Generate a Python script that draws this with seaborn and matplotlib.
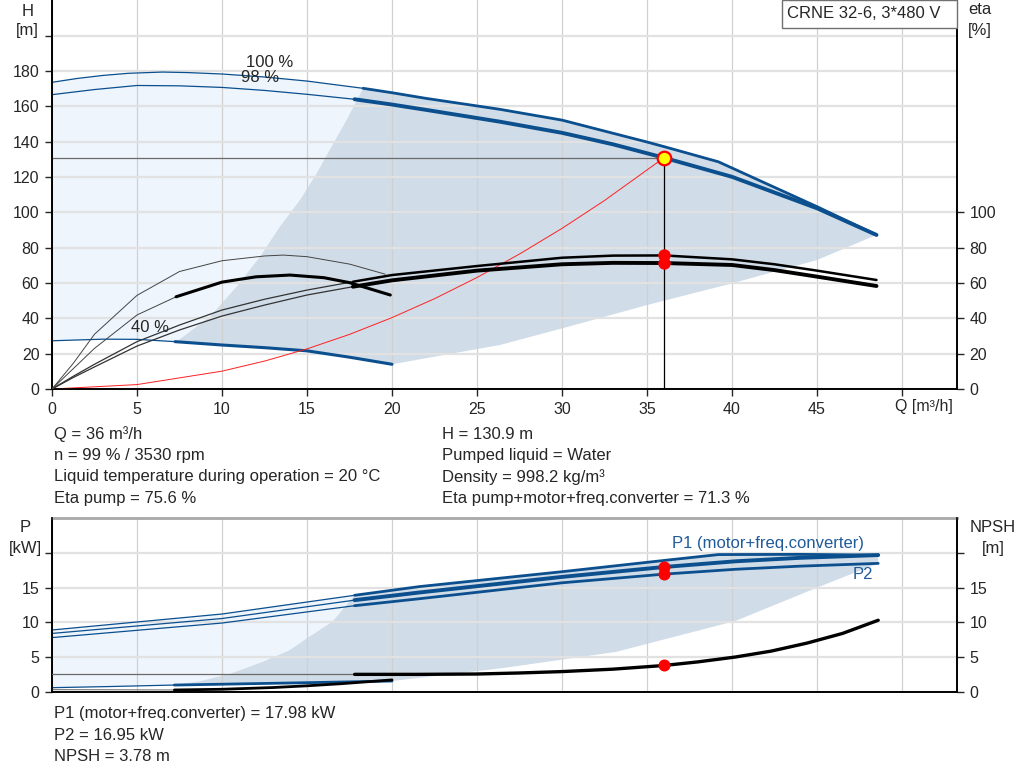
import matplotlib
matplotlib.use("Agg")
import matplotlib.pyplot as plt
import numpy as np
import seaborn as sns
from matplotlib.patches import Rectangle

# --- curva H (bomba CRNE 32-6) -------------------------------------------
q_h100 = [0, 1.5, 3, 4.5, 6.5, 8, 10, 12.5, 15, 18.3, 20, 22, 26.35, 30, 35, 36, 39.2, 45, 48.5]
h_h100 = [173.6, 175.8, 177.5, 178.7, 179.4, 179.1, 178.3, 176.6, 174.3, 170.2, 167.7, 164.5,
          158.3, 152.2, 139.8, 137.2, 128.6, 103.2, 87.2]
q_h98 = [0, 2.5, 5, 7.5, 10, 12.5, 15, 17.8, 20, 22, 26.35, 30, 33, 36, 40, 45, 48.5]
h_h98 = [166.6, 169.5, 171.8, 171.6, 170.7, 169.0, 166.8, 164.0, 161.0, 158.0, 151.3, 145.0,
         138.5, 130.9, 120.1, 102.3, 87.2]
q_h40 = [0, 3, 5, 7.24, 10, 12.5, 15, 17.5, 20]
h_h40 = [27.3, 28.2, 28.1, 26.8, 24.9, 23.4, 21.6, 18.0, 14.0]

# limites del rango de operacion
q_min_edge = [7.33, 9.29, 10.86, 12.24, 13.41, 14.59, 15.57, 16.55, 17.33, 18.3]
h_min_edge = [26.8, 40.9, 57.9, 74.9, 91.9, 107.0, 122.0, 139.0, 152.2, 170.2]
q_max_edge = [20, 26.35, 30, 35, 40, 45, 48.5]
h_max_edge = [14.0, 24.9, 34.3, 47.5, 59.8, 73.0, 87.2]

# eficiencias
q_eta = [0, 1.25, 2.5, 5, 7.5, 10, 12.5, 15, 17.7, 20, 25, 30, 33, 36, 40, 42.5, 45, 48.5]
eta_pump = [0, 7.2, 14, 26.8, 36.2, 44.7, 50.8, 56, 60.7, 64.5, 69.6, 74.3, 75.5, 75.6,
            73.4, 70.6, 67.0, 61.7]
eta_total = [0, 6.5, 12.5, 24.3, 33.4, 41.3, 47.5, 53.2, 57.9, 61.5, 67.0, 70.6, 71.4, 71.3,
             70.2, 67.3, 63.6, 58.3]
q_eta40_pump = [0, 1.25, 2.5, 5, 7.5, 10, 12.5, 13.6, 15, 17.5, 19.6]
eta40_pump = [0, 14.5, 31, 53, 66.5, 72.6, 75.3, 75.8, 74.9, 70.7, 65.0]
q_eta40_tot = [0, 1.25, 2.5, 5, 7.3, 10, 12, 14, 16, 17.5, 19.9]
eta40_tot = [0, 11.5, 23, 41.9, 52.2, 60.5, 63.5, 64.5, 63.0, 60.2, 53.2]

# curva del sistema
q_sys = [0, 5, 10, 12.5, 15, 17.5, 20, 22.5, 25, 27.5, 30, 32.5, 36]
h_sys = [0, 2.5, 10.1, 15.8, 22.7, 30.9, 40.4, 51.1, 63.1, 76.4, 90.9, 106.7, 130.9]

# punto de trabajo
Q_DUTY, H_DUTY = 36, 130.9
ETA_PUMP, ETA_TOT = 75.6, 71.3
P1_DUTY, P2_DUTY, NPSH_DUTY = 17.98, 16.95, 3.78

# --- potencia y NPSH ------------------------------------------------------
q_p1_100 = [0, 10, 17.8, 21.6, 30, 36.1, 39.2, 44, 48.6]
p1_100 = [8.9, 11.2, 13.9, 15.15, 17.3, 18.95, 19.77, 19.8, 19.7]
q_p98 = [0, 10, 17.8, 21.6, 30, 36, 40.2, 44, 48.6]
p1_98 = [8.4, 10.55, 13.2, 14.3, 16.55, 17.98, 18.8, 19.3, 19.7]
p2_98 = [7.8, 9.9, 12.4, 13.4, 15.7, 16.95, 17.65, 18.1, 18.5]
q_p40 = [0, 3.5, 7.2, 10, 15, 20]
p1_40 = [0.58, 0.75, 0.96, 1.08, 1.3, 1.54]
q_p2_40 = [0, 3.5, 7.2, 10, 13, 15, 17, 20]
p2_40 = [0.3, 0.28, 0.25, 0.35, 0.6, 0.85, 1.15, 1.7]
q_npsh = [0, 17.8, 21.6, 25, 27.5, 30, 33, 36, 38, 40.2, 42.3, 44.4, 46.5, 48.6]
npsh = [2.5, 2.5, 2.5, 2.55, 2.7, 2.9, 3.25, 3.78, 4.3, 5.0, 5.85, 7.0, 8.4, 10.3]

q_pmin_edge = [7.2, 8.7, 10.5, 12.4, 14.0, 15.0, 16.5, 17.8]
p_pmin_edge = [0.96, 1.5, 2.6, 4.3, 6.0, 7.7, 10.1, 13.9]
q_pmax_edge = [20, 26.5, 33.2, 40.2, 45.1, 48.6]
p_pmax_edge = [1.54, 3.4, 5.75, 10.2, 15.1, 18.5]

info_left = ["Q = 36 m³/h", "n = 99 % / 3530 rpm",
             "Liquid temperature during operation = 20 °C", "Eta pump = 75.6 %"]
info_right = ["H = 130.9 m", "Pumped liquid = Water", "Density = 998.2 kg/m³",
              "Eta pump+motor+freq.converter = 71.3 %"]
info_bottom = ["P1 (motor+freq.converter) = 17.98 kW", "P2 = 16.95 kW", "NPSH = 3.78 m"]

BLUE = "#0B4F8E"
LIGHT = "#EEF5FC"
DARK = "#D0DCE7"
FS = 12

sns.set_style("ticks")
plt.rcParams["font.family"] = ["Liberation Sans", "DejaVu Sans"]
plt.rcParams["font.size"] = FS

W, HT = 1024, 781


def fx(x):
    return x / W


def fy(y):
    return 1 - y / HT


def curva(ax, q, v, color, lw, z=3):
    sns.lineplot(x=q, y=v, ax=ax, estimator=None, sort=False,
                 color=color, linewidth=lw, zorder=z)


def poligono(ax, partes_q, partes_v, color):
    ax.fill(np.concatenate(partes_q), np.concatenate(partes_v),
            color=color, lw=0, zorder=0.2)


def estilo(ax, ax2, yticks, ylabels, top_color=None):
    ax.set_xlim(0, 905 / 17)
    ax.set_axisbelow(True)
    ax.grid(axis="x", color="#D0D0D0", lw=0.9)
    ax.grid(axis="y", color="#E2E2E2", lw=1.6)
    ax.set_yticks(yticks)
    ax.set_yticklabels(ylabels)
    ax2.set_yticks([t for t in yticks if t <= 100])
    ax2.set_yticklabels([l for t, l in zip(yticks, ylabels) if t <= 100])
    for a in (ax, ax2):
        a.set_xlabel("")
        a.set_ylabel("")
        a.tick_params(axis="y", direction="out", length=5, width=1,
                      labelsize=11.5, pad=4)
        for s in a.spines.values():
            s.set_color("black")
            s.set_linewidth(1.2)
    ax2.spines["top"].set_visible(False)
    if top_color is None:
        ax.spines["top"].set_visible(False)
    else:
        ax.spines["top"].set_color(top_color)
        ax.spines["top"].set_linewidth(2)


fig = plt.figure(figsize=(10.24, 7.81), dpi=100)
ax_h = fig.add_axes([fx(52), fy(389), 905 / W, 389 / HT])
ax_p = fig.add_axes([fx(52), fy(691.7), 905 / W, 173.4 / HT])

# ---------------- panel superior: H y eta ----------------
ax_h.set_ylim(0, 389 / 1.7667)
n20 = q_h100.index(20)
n183 = q_h100.index(18.3)
n178 = q_h98.index(17.8)
n724 = q_h40.index(7.24)
poligono(ax_h, [q_h100[:n20 + 1], q_h40[::-1]], [h_h100[:n20 + 1], h_h40[::-1]], LIGHT)
poligono(ax_h, [q_min_edge, q_h100[n183:], q_max_edge[::-1], q_h40[n724:][::-1]],
         [h_min_edge, h_h100[n183:], h_max_edge[::-1], h_h40[n724:][::-1]], DARK)

curva(ax_h, q_h100[:n183 + 1], h_h100[:n183 + 1], BLUE, 0.9)
curva(ax_h, q_h100[n183:], h_h100[n183:], BLUE, 2.0)
curva(ax_h, q_h98[:n178 + 1], h_h98[:n178 + 1], BLUE, 0.9)
curva(ax_h, q_h98[n178:], h_h98[n178:], BLUE, 2.8)
curva(ax_h, q_h40[:n724 + 1], h_h40[:n724 + 1], BLUE, 0.9)
curva(ax_h, q_h40[n724:], h_h40[n724:], BLUE, 2.2)
curva(ax_h, q_sys, h_sys, "#FF2020", 0.7)

ax_h.plot([0, Q_DUTY], [H_DUTY, H_DUTY], color="#6A6A6A", lw=0.9, zorder=2.5)
ax_h.plot([Q_DUTY, Q_DUTY], [0, H_DUTY], color="black", lw=0.9, zorder=2.5)
sns.scatterplot(x=[Q_DUTY], y=[H_DUTY], ax=ax_h, s=95, color="#FFFF00",
                edgecolor="red", linewidth=1.6, zorder=6)

ax_h.text(12.8, 185.0, "100 %", ha="center", va="center", fontsize=FS, zorder=7)
ax_h.text(12.26, 176.6, "98 %", ha="center", va="center", fontsize=FS, zorder=7)
ax_h.text(5.76, 34.7, "40 %", ha="center", va="center", fontsize=FS, zorder=7)

ax_h.set_xticks(range(0, 51, 5))
ax_h.set_xticklabels([str(v) for v in range(0, 46, 5)] + [""])
ax_h.tick_params(axis="x", direction="out", length=5, width=1,
                 labelsize=11.5, pad=4)

ax_eta = ax_h.twinx()
ax_eta.set_ylim(0, 389 / 1.7667)
ne = q_eta.index(17.7)
nt = q_eta40_tot.index(7.3)
curva(ax_eta, q_eta[:ne + 1], eta_pump[:ne + 1], "#333333", 0.9)
curva(ax_eta, q_eta[ne:], eta_pump[ne:], "black", 1.8)
curva(ax_eta, q_eta[:ne + 1], eta_total[:ne + 1], "#333333", 0.9)
curva(ax_eta, q_eta[ne:], eta_total[ne:], "black", 2.8)
curva(ax_eta, q_eta40_pump, eta40_pump, "#444444", 0.7)
curva(ax_eta, q_eta40_tot[:nt + 1], eta40_tot[:nt + 1], "#444444", 0.7)
curva(ax_eta, q_eta40_tot[nt:], eta40_tot[nt:], "black", 2.2)
sns.scatterplot(x=[Q_DUTY, Q_DUTY], y=[ETA_PUMP, ETA_TOT], ax=ax_eta,
                s=80, color="red", linewidth=0, zorder=6)

h_ticks = list(range(0, 201, 20))
estilo(ax_h, ax_eta, h_ticks, [str(t) for t in h_ticks[:-1]] + [""])

# ---------------- panel inferior: P y NPSH ----------------
ax_p.set_ylim(0, 25)
poligono(ax_p, [q_p1_100[:4], q_p40[::-1]], [p1_100[:4], p1_40[::-1]], LIGHT)
poligono(ax_p, [q_pmin_edge, q_p1_100[2:], q_pmax_edge[::-1], q_p40[2:][::-1]],
         [p_pmin_edge, p1_100[2:], p_pmax_edge[::-1], p1_40[2:][::-1]], DARK)

curva(ax_p, q_p1_100[:3], p1_100[:3], BLUE, 0.9)
curva(ax_p, q_p1_100[2:], p1_100[2:], BLUE, 2.0)
curva(ax_p, q_p98[:3], p1_98[:3], BLUE, 0.9)
curva(ax_p, q_p98[2:], p1_98[2:], BLUE, 2.8)
curva(ax_p, q_p98[:3], p2_98[:3], BLUE, 0.9)
curva(ax_p, q_p98[2:], p2_98[2:], BLUE, 2.0)
curva(ax_p, q_p40[:3], p1_40[:3], BLUE, 0.9)
curva(ax_p, q_p40[2:], p1_40[2:], BLUE, 2.0)
curva(ax_p, q_p2_40[:3], p2_40[:3], "#777777", 0.8)
curva(ax_p, q_p2_40[2:], p2_40[2:], "black", 2.0)
sns.scatterplot(x=[Q_DUTY, Q_DUTY], y=[P1_DUTY, P2_DUTY], ax=ax_p,
                s=75, color="red", linewidth=0, zorder=6)
ax_p.text(42.1, 21.35, "P1 (motor+freq.converter)", color="#1F5B99",
          ha="center", va="center", fontsize=FS)
ax_p.text(47.7, 16.9, "P2", color="#1F5B99", ha="center", va="center", fontsize=FS)

ax_p.set_xticks(range(0, 51, 5))
ax_p.set_xticklabels([])
ax_p.tick_params(axis="x", length=0)

ax_n = ax_p.twinx()
ax_n.set_ylim(0, 25)
curva(ax_n, q_npsh[:2], npsh[:2], "#6A6A6A", 0.9)
curva(ax_n, q_npsh[1:], npsh[1:], "black", 2.4)
sns.scatterplot(x=[Q_DUTY], y=[NPSH_DUTY], ax=ax_n, s=75, color="red",
                linewidth=0, zorder=6)

p_ticks = [0, 5, 10, 15, 20]
estilo(ax_p, ax_n, p_ticks, ["0", "5", "10", "15", ""], top_color="#A8A8A8")
ax_n.set_yticks(p_ticks)
ax_n.set_yticklabels(["0", "5", "10", "15", ""])
ax_n.spines["top"].set_visible(False)

# ---------------- textos ----------------
fig.text(fx(27.7), fy(12), "H", ha="center", va="center", fontsize=FS)
fig.text(fx(27.7), fy(31), "[m]", ha="center", va="center", fontsize=FS)
fig.text(fx(980), fy(10), "eta", ha="center", va="center", fontsize=FS)
fig.text(fx(980), fy(30), "[%]", ha="center", va="center", fontsize=FS)
fig.text(fx(924), fy(407), "Q [m³/h]", ha="center", va="center", fontsize=11.5)
fig.text(fx(25), fy(528), "P", ha="center", va="center", fontsize=FS)
fig.text(fx(25), fy(548), "[kW]", ha="center", va="center", fontsize=FS)
fig.text(fx(993), fy(528), "NPSH", ha="center", va="center", fontsize=FS)
fig.text(fx(993), fy(548), "[m]", ha="center", va="center", fontsize=FS)

fig.add_artist(Rectangle((fx(782), fy(28.3)), 175 / W, 28.3 / HT,
                         transform=fig.transFigure, facecolor="white",
                         edgecolor="#707070", lw=1, zorder=10))
fig.text(fx(787), fy(14), "CRNE 32-6, 3*480 V", ha="left", va="center",
         fontsize=FS, zorder=11)

for i, t in enumerate(info_left):
    fig.text(fx(54.5), fy(434.3 + i * 21.3), t, ha="left", va="center", fontsize=FS)
for i, t in enumerate(info_right):
    fig.text(fx(441.9), fy(434.3 + i * 21.3), t, ha="left", va="center", fontsize=FS)
for i, t in enumerate(info_bottom):
    fig.text(fx(54.5), fy(713.3 + i * 21.7), t, ha="left", va="center", fontsize=FS)

fig.savefig("out.png", dpi=100)
